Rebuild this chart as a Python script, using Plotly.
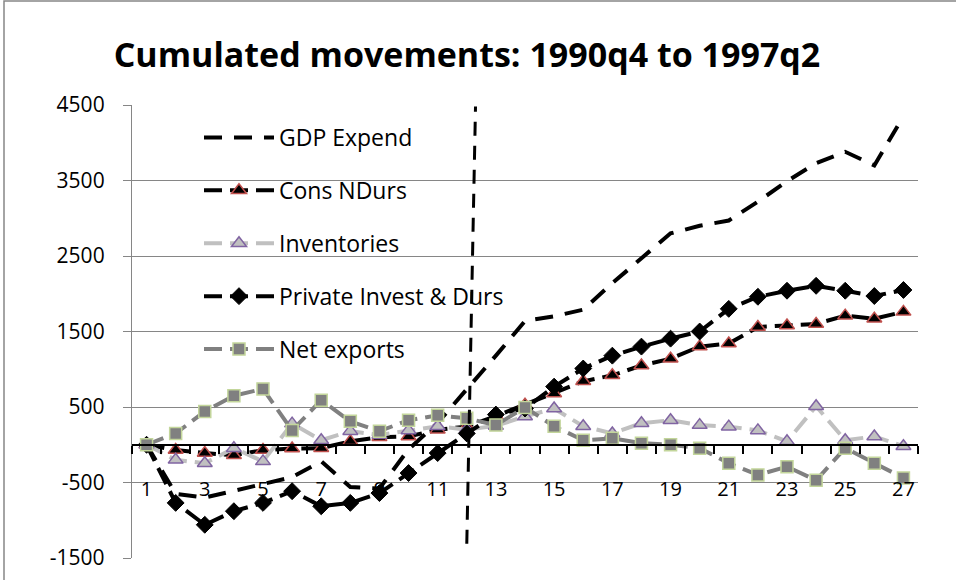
import plotly.graph_objects as go

periods = [str(i) for i in range(1, 28)]

gdp_expend = [0, -650, -700, -610, -510, -430, -220, -560, -580, -60, 290, 730,
              1180, 1640, 1700, 1790, 2140, 2470, 2800, 2900, 2970, 3220, 3490,
              3730, 3880, 3700, 4350]
cons_ndurs = [0, -70, -110, -140, -70, -50, -45, 45, 100, 110, 200, 240, 380,
              530, 680, 840, 920, 1050, 1140, 1300, 1340, 1560, 1580, 1600,
              1710, 1670, 1760]
inventories = [0, -200, -245, -45, -220, 280, 60, 180, 130, 190, 245, 200, 250,
               375, 480, 245, 150, 285, 325, 260, 240, 190, 45, 510, 60, 110, -20]
private_invest = [0, -770, -1060, -880, -770, -615, -815, -770, -640, -375, -110,
                  150, 400, 480, 770, 1010, 1180, 1300, 1405, 1500, 1800, 1960,
                  2040, 2105, 2040, 1970, 2050]
net_exports = [0, 150, 440, 650, 740, 190, 590, 310, 180, 325, 390, 350, 260,
               495, 245, 60, 85, 20, 0, -45, -245, -400, -290, -470, -45, -245, -440]

y_tick_values = [-1500, -500, 500, 1500, 2500, 3500, 4500]
y_tick_labels = ["-1500", "-500", "500", "1500", "2500", "3500", "4500"]

divider_period = [12, 12.3]
divider_value = [-1310, 4480]

title_text = "Cumulated movements: 1990q4 to 1997q2"
FONT = "Open Sans"

fig = go.Figure()

fig.add_trace(go.Scatter(
    x=periods, y=gdp_expend, name="GDP Expend", mode="lines",
    line=dict(color="black", width=4, dash="18px,12px"),
    legendgroup="a"))
fig.add_trace(go.Scatter(
    x=periods, y=cons_ndurs, name="Cons NDurs", mode="lines+markers",
    line=dict(color="black", width=4, dash="18px,8px"),
    marker=dict(symbol="triangle-up", size=13, color="black",
                line=dict(color="#c0504d", width=1.5)),
    legendgroup="b"))
fig.add_trace(go.Scatter(
    x=periods, y=inventories, name="Inventories", mode="lines+markers",
    line=dict(color="#c0c0c0", width=4, dash="18px,8px"),
    marker=dict(symbol="triangle-up", size=13, color="#c0c0c0",
                line=dict(color="#8064a2", width=1.5)),
    legendgroup="c"))
fig.add_trace(go.Scatter(
    x=periods, y=private_invest, name="Private Invest & Durs", mode="lines+markers",
    line=dict(color="black", width=4, dash="18px,8px"),
    marker=dict(symbol="diamond", size=13, color="black",
                line=dict(color="black", width=1)),
    legendgroup="d"))
fig.add_trace(go.Scatter(
    x=periods, y=net_exports, name="Net exports", mode="lines+markers",
    line=dict(color="#808080", width=4, dash="18px,8px"),
    marker=dict(symbol="square", size=12, color="#808080",
                line=dict(color="#c3d69b", width=1.5)),
    legendgroup="e"))

# vertical dashed divider (category index = period - 1)
fig.add_shape(type="line", xref="x", yref="y",
              x0=divider_period[0] - 1, x1=divider_period[1] - 1,
              y0=divider_value[0], y1=divider_value[1],
              line=dict(color="black", width=3, dash="14px,10px"))

# outer chart border
L, R, T, B = 132, 38, 105, 22
PW, PH = 956 - L - R, 580 - T - B
fig.add_shape(type="rect", xref="paper", yref="paper",
              x0=(4 - L) / PW, x1=(990 - L) / PW,
              y0=-(620 - (580 - B)) / PH, y1=1 + (T - 1) / PH,
              line=dict(color="#868686", width=1.5), fillcolor="rgba(0,0,0,0)",
              layer="below")

ymin, ymax = -1500, 4500
fig.update_layout(
    width=956, height=580,
    margin=dict(l=L, r=R, t=T, b=B, autoexpand=False),
    paper_bgcolor="white", plot_bgcolor="white",
    font=dict(family=FONT, size=20, color="black"),
    title=dict(text="<b>" + title_text + "</b>", x=467 / 956, xanchor="center",
               y=1 - 55 / 580, yanchor="middle",
               font=dict(family=FONT, size=34, color="black")),
    showlegend=True,
    legend=dict(x=(199 - L) / PW, y=(580 - B - 116) / PH, xanchor="left", yanchor="top",
                bgcolor="rgba(0,0,0,0)", font=dict(family=FONT, size=23),
                itemwidth=70, tracegroupgap=20, traceorder="grouped"),
    xaxis=dict(type="category", categoryorder="array", categoryarray=periods,
               range=[-0.5, len(periods) - 0.5], autorange=False,
               anchor="free", position=(0 - ymin) / (ymax - ymin),
               showline=True, linecolor="black", linewidth=1.5,
               ticks="outside", ticklen=8, tickwidth=1.5, tickcolor="black",
               tickson="boundaries", tickmode="linear", tick0=0, dtick=1,
               ticklabelstep=2, ticklabelstandoff=26, tickangle=0,
               showgrid=False, zeroline=False, automargin=False,
               tickfont=dict(family=FONT, size=20, color="black")),
    yaxis=dict(range=[ymin, ymax], tickmode="array", tickvals=y_tick_values,
               ticktext=y_tick_labels,
               showgrid=True, gridcolor="#868686", gridwidth=1.3,
               showline=True, linecolor="#868686", linewidth=1.3,
               ticks="outside", ticklen=8, tickcolor="#868686",
               ticklabelstandoff=14, automargin=False,
               zeroline=False, tickfont=dict(family=FONT, size=21, color="black")),
)

fig.write_html(
    "out.html",
    config={"displayModeBar": False},
    post_script="document.body.style.margin='0';document.body.style.overflow='hidden';",
)
